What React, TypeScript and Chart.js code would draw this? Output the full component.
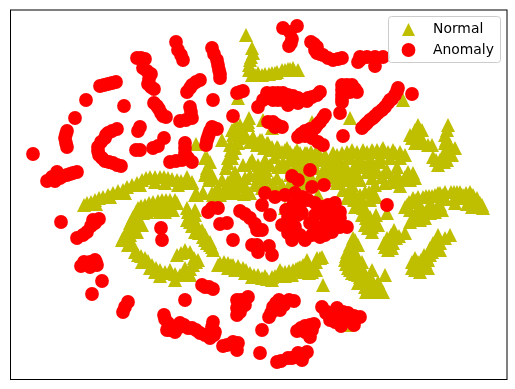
import React, { useEffect, useRef } from "react";
import { Chart, registerables } from "chart.js";

Chart.register(...registerables);

const seriesNames = ["Normal", "Anomaly"];

const normalTop = [
  [246,35],[253,53],[250,60],[249,65],[252,75],[258,73],[265,74],[272,73],[277,72],[282,70],[288,69],[293,68],[298,70],
  [238,98],[403,100],[249,118],[263,120],[272,128],[312,122],[350,118],[196,144],[222,140],
  [252,48],[251,57],[249,70],[255,75],[262,75],[269,74],[275,73],[285,70],[290,69],
];
const normalCentre = [
  [232,130],[235,130],[238,138],[240,137],[238,143],[233,153],[232,158],[228,158],[228,163],[248,122],[248,125],[253,137],[258,143],
  [260,140],[268,143],[277,147],[287,148],[297,150],[307,153],[317,157],[328,162],[333,167],[327,168],[338,163],
  [210,162],[207,168],[212,175],[205,158],[207,158],[207,170],[212,178],[192,182],[195,195],[203,193],[213,195],
  [235,183],[230,187],[240,183],[227,193],[237,193],[247,190],[250,163],[252,160],[262,167],[270,165],[278,167],[287,167],[292,160],
  [303,157],[313,162],[273,183],[282,185],[258,178],[250,175],[257,172],[267,177],[290,183],[305,177],[318,195],[285,208],[195,210],[198,227],
  [243,165],[265,160],[275,157],[300,170],[327,175],[333,177],[322,183],[337,183],[262,140],[272,147],[285,150],[295,153],[305,153],[317,150],
  [332,157],[342,153],[352,150],[362,153],[372,150],[382,150],[395,153],
];
const normalCentreFill = [
  [257,145],[264,148],[272,150],[282,152],[292,155],[302,158],[310,155],[322,160],[250,142],[245,135],[243,130],[240,125],[236,125],[233,135],[230,145],[235,148],[231,150],[226,168],
  [232,178],[238,178],[228,182],[243,186],[225,188],[232,193],[244,194],[220,195],[250,193],[205,175],[209,180],[215,192],
  [258,165],[266,170],[283,162],[296,165],[305,165],[315,168],[322,172],[330,172],[310,175],[300,178],[264,182],[277,178],[290,175],
  [267,143],[278,148],[290,152],[300,153],[311,152],[325,155],[337,155],[347,152],[357,152],[367,152],[377,150],[388,152],[393,150],[405,155],
  [340,160],[350,158],[360,158],[370,158],[380,157],[390,158],[400,158],
  [222,180],[218,188],[235,172],[245,178],[255,185],[262,188],[270,190],[278,192],[290,190],[298,188],[312,185],[302,183],[320,178],
];
const normalRight = [
  [418,125],[410,135],[423,143],[432,145],[415,143],[448,125],[445,135],[455,148],[445,143],[448,148],[433,157],[438,165],[447,160],[443,155],[448,153],
  [363,150],[373,152],[383,148],[393,152],[400,152],[337,160],[347,153],[333,153],[360,162],[370,165],[380,162],[387,170],[343,172],[353,172],[367,172],
  [377,172],[340,168],[397,175],[395,182],[405,177],[413,173],[415,178],[350,180],[357,167],[345,180],
  [405,207],[409,202],[413,198],[418,197],[423,197],[429,196],[435,195],[440,193],[445,192],[451,192],[457,192],[463,195],[470,192],[473,195],[477,198],[480,203],[483,208],
  [440,205],[433,208],[425,213],[415,218],[410,222],[415,215],[420,220],[430,213],
  [394,230],[387,238],[385,247],[388,250],[405,233],[393,243],
  [450,235],[438,242],[435,248],[430,255],[423,265],[415,270],[415,258],[421,260],[433,243],[440,243],[428,260],[417,268],
  [355,240],[347,252],[352,248],[345,260],[348,268],[352,273],[358,275],[363,278],[370,283],[377,288],[383,292],[385,275],[365,287],[362,268],[370,277],[378,292],
  [350,188],[357,198],[365,192],[373,193],[363,208],[370,217],[372,227],[373,222],[367,213],[355,207],[387,213],
];
const normalRightFill = [
  [345,165],[355,165],[365,167],[375,167],[385,172],[392,178],[400,180],[410,180],[408,172],[348,175],[358,177],[335,170],[340,178],[352,185],[360,180],[372,178],[382,177],[337,180],
  [415,130],[412,138],[418,140],[428,145],[420,135],[422,130],[447,130],[446,140],[450,145],[452,155],[444,162],[440,160],[436,160],
  [407,205],[416,200],[426,196],[432,196],[438,193],[443,195],[454,192],[460,192],[466,193],[455,197],[465,198],[475,200],[478,205],[482,205],
  [437,207],[429,210],[421,215],[412,220],[425,218],[435,212],[442,210],
  [391,235],[388,243],[396,238],[399,236],[392,248],[384,243],
  [445,238],[435,245],[432,252],[427,258],[420,266],[418,262],[424,255],[430,248],[437,247],[412,262],[412,268],[425,262],
  [350,245],[346,256],[346,264],[350,270],[355,274],[360,277],[367,280],[373,285],[380,290],[355,268],[360,272],[365,275],[372,280],[350,262],[350,255],[358,245],[355,252],[361,280],[368,288],[374,292],[353,238],
  [353,192],[360,195],[369,192],[358,205],[365,210],[369,220],[372,232],[366,218],[362,200],[370,200],[376,197],[368,228],[350,195],[354,200],[365,225],
  [410,210],[420,205],[430,203],[445,199],[455,203],[467,204],[472,207],[418,208],[440,250],[428,268],[420,272],[438,235],
  [356,258],[362,262],[372,270],[378,282],[358,283],[366,292],[343,190],[347,198],[362,215],[376,215],[378,225],[397,167],[400,186],[375,185],[385,183],
];
const normalLeft = [
  [87,203],[95,200],[103,197],[113,193],[123,190],[132,185],[142,180],[150,177],[160,177],[168,178],[177,180],[185,182],[192,183],[187,177],
  [170,200],[162,200],[153,202],[145,205],[138,208],[133,217],[130,223],[125,235],[122,240],[128,245],[160,212],[170,207],[177,203],[157,210],[150,208],
  [138,255],[145,258],[152,265],[160,270],[170,273],[180,275],[188,272],[193,265],[198,260],[190,252],[177,255],[185,250],
  [187,208],[190,215],[187,220],[195,232],[203,237],[212,247],[213,250],[195,223],[202,230],[207,243],[197,195],[203,193],[212,193],[210,177],[207,170],
  [218,265],[210,242],[205,240],
  [91,202],[99,198],[108,195],[118,191],[127,187],[137,183],[146,178],[155,177],[164,177],[172,179],[181,181],[189,183],[84,205],[96,204],[110,197],[125,193],[140,185],[155,182],[165,183],[178,185],
  [166,200],[158,201],[149,203],[141,206],[136,212],[132,220],[128,229],[123,238],[143,213],[138,220],[134,228],[130,235],[166,205],[175,200],[173,210],[165,212],
  [141,256],[148,261],[156,268],[165,272],[175,274],[184,274],[190,269],[196,262],[194,258],[181,253],[135,252],[142,262],[150,268],[155,272],[170,270],[185,268],
  [188,212],[190,218],[192,226],[199,233],[207,240],[190,222],[198,228],[205,235],[210,245],[195,215],
  [147,212],[142,225],[137,232],[132,243],[160,205],[160,276],[175,280],[190,275],
];
const normalBottom = [
  [220,263],[228,263],[233,265],[243,268],[250,273],[258,275],[272,277],[278,275],[285,272],[293,270],[303,265],[313,268],[317,258],[307,260],[322,257],
  [280,270],[240,270],[252,277],[272,280],[312,272],[298,268],[323,285],[347,325],
  [224,262],[231,265],[238,266],[246,270],[254,275],[265,276],[275,276],[282,273],[289,271],[296,269],[300,267],[308,266],[316,262],[320,258],
  [228,268],[235,270],[245,273],[262,278],[267,279],[285,276],[292,275],[303,272],[309,273],[316,270],
];

const anomalyLeft = [
  [33,154],[176,42],[178,50],[183,60],[212,48],[217,60],[219,70],[220,78],[137,58],[145,59],[143,68],[151,74],[148,84],[154,89],
  [200,80],[192,85],[187,92],[243,91],[237,93],[213,100],[233,116],[124,106],[86,100],[100,86],[108,84],[116,82],[75,118],
  [67,131],[65,138],[67,147],[117,129],[108,133],[105,138],[98,147],[99,155],[105,161],[113,163],[121,166],[140,127],[138,131],
  [154,103],[159,109],[163,116],[190,107],[192,118],[180,121],[164,138],[153,148],[136,150],[140,150],
  [185,143],[185,153],[192,162],[182,160],[170,162],[212,127],[217,129],[209,134],[207,140],[206,145],
  [57,172],[47,181],[55,181],[63,176],[77,172],[70,174],
  [181,55],[214,54],[218,65],[220,74],[141,58],[147,71],[149,79],[151,87],[196,82],[190,88],[240,92],[104,85],[112,83],[66,134],[66,143],
  [112,131],[106,135],[101,142],[98,151],[102,158],[109,162],[117,165],[157,106],[161,113],[166,117],[191,112],[186,120],[158,146],[185,148],[188,158],[176,161],[214,128],[210,131],[208,137],[52,177],[60,178],[67,175],[73,173],
];
const anomalyTop = [
  [283,28],[297,26],[292,39],[289,46],[311,42],[317,47],[317,53],[323,55],[333,60],[342,58],[360,57],[358,62],[375,57],[375,66],[383,57],
  [342,85],[352,85],[357,92],[342,95],[342,102],[320,92],[312,97],[303,100],[293,96],[288,105],[278,93],[267,93],[268,98],[258,107],[283,100],
  [398,88],[395,95],[388,103],[382,110],[373,118],[367,123],[362,128],[412,94],
  [340,113],[325,115],[320,122],[315,128],[305,131],[298,137],[312,138],[323,145],[273,122],[282,127],[275,127],[343,136],
  [310,170],[292,176],[298,180],[312,187],[324,185],
  [290,32],[291,43],[314,44],[315,50],[320,54],[328,58],[338,59],[347,85],[355,89],[342,90],[342,99],[350,92],[317,95],[308,98],[298,98],[290,100],[273,93],[263,100],[283,93],[288,95],[273,100],[278,100],[298,103],[307,101],
  [397,91],[392,99],[385,107],[378,113],[370,120],[365,125],[390,100],[375,116],[323,118],[317,125],[310,129],[301,134],[305,136],[318,142],[277,125],[268,122],[360,60],[367,57],
];
const anomalyMiddle = [
  [61,222],[99,219],[95,223],[77,238],[87,232],[161,228],[162,240],[212,208],[208,212],[218,208],[240,211],[250,218],[258,230],[220,224],[227,223],[233,240],
  [252,245],[258,252],[387,205],[265,193],[270,215],[262,230],[257,230],[275,197],[262,205],
  [295,193],[308,200],[322,207],[335,203],[332,217],[288,217],[285,225],[298,215],[292,240],[305,240],[320,237],[332,232],[347,227],[335,220],[310,223],[295,227],[288,233],[318,227],
  [257,245],[269,246],[272,255],
  [91,226],[83,235],[93,220],[245,214],[255,224],[282,225],[286,210],[293,205],[300,205],[302,213],[315,215],[325,215],[340,212],[325,225],[340,227],[330,210],[315,232],[300,235],[312,235],[325,235],[290,222],[285,195],[303,197],[315,203],[328,205],[340,218],
];
const anomalyBottom = [
  [81,266],[95,260],[90,267],[97,265],[102,281],[92,294],[128,302],[123,312],[185,300],[202,285],[213,289],
  [164,315],[168,323],[167,330],[175,332],[180,323],[192,328],[200,333],[213,322],[210,338],[215,332],
  [223,346],[233,342],[237,350],[238,343],[237,300],[248,297],[237,308],[237,315],[245,305],[262,330],[260,353],
  [279,300],[294,301],[273,307],[280,310],[269,317],[277,362],[288,358],[302,360],[307,352],[298,353],
  [322,307],[337,308],[330,320],[348,313],[360,317],[341,326],[354,325],[314,324],[305,326],[297,331],[310,337],
  [205,287],[209,287],[170,330],[178,328],[184,325],[188,328],[196,330],[205,335],[212,327],[214,335],[165,319],[227,345],[235,345],[241,300],[241,308],[240,312],[243,301],
  [276,303],[284,305],[289,300],[276,308],[271,313],[281,361],[292,358],[295,357],[303,356],[326,313],[333,315],[343,312],[335,322],[350,321],[345,320],[354,316],[327,312],[301,328],[312,330],[310,325],[305,332],[125,307],[96,262],[84,262],[90,262],
];

const normalPoints = [...normalTop, ...normalCentre, ...normalCentreFill, ...normalRight, ...normalRightFill, ...normalLeft, ...normalBottom];
const anomalyPoints = [...anomalyLeft, ...anomalyTop, ...anomalyMiddle, ...anomalyBottom];

const OLIVE = "#bfbf00";
const RED = "#ff0000";
const MARKER = 14;

function trianglePath(ctx: CanvasRenderingContext2D, cx: number, cy: number, s: number) {
  ctx.beginPath();
  ctx.moveTo(cx, cy - s / 2);
  ctx.lineTo(cx + s / 2, cy + s / 2);
  ctx.lineTo(cx - s / 2, cy + s / 2);
  ctx.closePath();
}

function triangleSprite() {
  const c = document.createElement("canvas");
  c.width = MARKER;
  c.height = MARKER;
  const ctx = c.getContext("2d")!;
  ctx.fillStyle = OLIVE;
  trianglePath(ctx, MARKER / 2, MARKER / 2, MARKER);
  ctx.fill();
  return c;
}

const framePlugin = {
  id: "frameAndKey",
  afterDatasetsDraw(chart: any) {
    const { ctx, chartArea: a } = chart;
    ctx.save();
    ctx.strokeStyle = "#000";
    ctx.lineWidth = 1;
    ctx.strokeRect(a.left, a.top, a.right - a.left, a.bottom - a.top);

    const bx = 388.5, by = 16.5, bw = 112, bh = 46, r = 3;
    ctx.beginPath();
    ctx.roundRect(bx, by, bw, bh, r);
    ctx.fillStyle = "rgba(255,255,255,0.8)";
    ctx.fill();
    ctx.strokeStyle = "#cccccc";
    ctx.stroke();

    ctx.fillStyle = OLIVE;
    trianglePath(ctx, 408.5, 29.5, MARKER - 1);
    ctx.fill();
    ctx.fillStyle = RED;
    ctx.beginPath();
    ctx.arc(408.5, 50, 6.9, 0, Math.PI * 2);
    ctx.fill();

    ctx.fillStyle = "#000";
    ctx.font = '13.9px "DejaVu Sans"';
    ctx.textBaseline = "middle";
    ctx.textAlign = "left";
    chart.data.datasets.forEach((d: any, i: number) => {
      ctx.fillText(d.label, 433, i === 0 ? 29 : 50);
    });
    ctx.restore();
  },
};

export default function App() {
  const ref = useRef<HTMLCanvasElement>(null);
  useEffect(() => {
    if (!ref.current) return;
    const chart = new Chart(ref.current, {
      type: "scatter",
      data: {
        datasets: [
          {
            label: seriesNames[0],
            data: normalPoints.map(([x, y]) => ({ x, y })),
            pointStyle: triangleSprite() as any,
            pointRadius: 7,
            backgroundColor: OLIVE,
            borderWidth: 0,
            order: 1,
          },
          {
            label: seriesNames[1],
            data: anomalyPoints.map(([x, y]) => ({ x, y })),
            pointStyle: "circle",
            pointRadius: 6.9,
            backgroundColor: RED,
            borderWidth: 0,
            order: 0,
          },
        ],
      },
      options: {
        responsive: false,
        animation: false,
        layout: { padding: { left: 10.5, right: 8, top: 10, bottom: 9.5 } },
        scales: {
          x: { type: "linear", display: false, min: 10.5, max: 507 },
          y: { type: "linear", display: false, min: 10, max: 379.5, reverse: true },
        },
        plugins: { legend: { display: false }, tooltip: { enabled: false } },
      },
      plugins: [framePlugin],
    });
    return () => chart.destroy();
  }, []);
  return (
    <div style={{ position: "absolute", left: 0, top: 0, width: 515, height: 389, background: "#fff" }}>
      <canvas ref={ref} width={515} height={389} style={{ display: "block" }} />
    </div>
  );
}
